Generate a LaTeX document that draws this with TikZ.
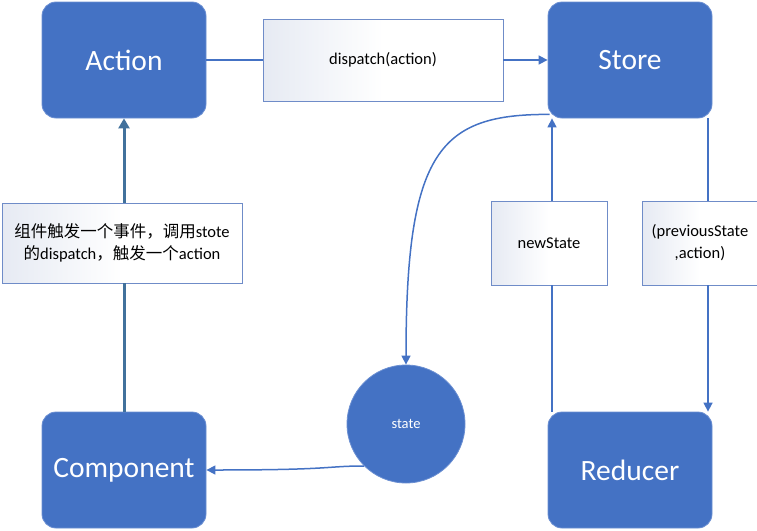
\documentclass[tikz,border=0pt]{standalone}
\usepackage{fontspec}
\setmainfont{Carlito}
\newfontfamily\cjk{Noto Sans CJK SC}
\usetikzlibrary{arrows.meta}
\definecolor{boxblue}{HTML}{4472C4}
\definecolor{edgeblue}{HTML}{6B8FD2}
\definecolor{steelline}{HTML}{41719C}
\definecolor{lblline}{HTML}{6F8CC8}
\definecolor{lblshade}{HTML}{E6EAF3}
\begin{document}
\begin{tikzpicture}[x=1pt, y=-1pt,
	bigbox/.style={draw=edgeblue, line width=0.8pt, fill=boxblue, rounded corners=14pt,
		minimum width=164pt, minimum height=116pt, text=white, font=\fontsize{29.5}{32}\selectfont},
	lblbox/.style={draw=lblline, line width=0.7pt, left color=lblshade, right color=white,
		middle color=white, align=center, font=\fontsize{16.5}{22}\selectfont, inner sep=2pt},
	conn/.style={draw=boxblue, line width=1.5pt},
	tip/.style={-{Triangle[width=9pt,length=9pt]}}]
		\useasboundingbox (0,0) rectangle (757,530);

		% main boxes
		\node[bigbox] (act) at (124,60) {Action};
		\node[bigbox] (store) at (630,60) {Store};
		\node[bigbox] (comp) at (124,470) {Component};
		\node[bigbox] (red) at (630,470) {Reducer};
		\node[circle, fill=boxblue, draw=edgeblue, line width=0.8pt, minimum size=118pt,
			text=white, font=\fontsize{14.5}{16}\selectfont] (st) at (406,424) {state};

		% labels on the connectors
		\node[lblbox, minimum width=240pt, minimum height=82pt] (disp) at (383,60) {dispatch(action)};
		\node[lblbox, minimum width=240pt, minimum height=80pt] (evt) at (122,243)
			{{\cjk 组件触发一个事件，调用}stote\\{\cjk 的}dispatch{\cjk ，触发一个}action};
		\node[lblbox, minimum width=116pt, minimum height=84pt] (ns) at (549,243) {newState};
		\node[lblbox, minimum width=115pt, minimum height=84pt] (prev) at (700,243)
			{(previousState\\,action)};
		\coordinate (nsx) at (552,0);
		\coordinate (prx) at (708,0);

		% Action -> Store
		\draw[conn] (act.east) -- (disp.west);
		\draw[conn, tip] (disp.east) -- (store.west);

		% Component -> Action
		\draw[draw=steelline, line width=3pt] (comp.north) -- (comp.north |- evt.south);
		\draw[draw=steelline, line width=3pt, -{Triangle[width=11pt,length=10pt]}]
			(act.south |- evt.north) -- (act.south);

		% Reducer -> Store
		\draw[conn] (red.north -| nsx) -- (ns.south -| nsx);
		\draw[conn, tip] (ns.north -| nsx) -- (store.south -| nsx);

		% Store -> Reducer
		\draw[conn] (store.south -| prx) -- (prev.north -| prx);
		\draw[conn, tip] (prev.south -| prx) -- (red.north -| prx);

		% Store -> state -> Component
		\draw[conn, tip] ([shift={(2,-4)}]store.south west)
			.. controls (440,114) and (406,150) .. (st.north);
		\draw[conn, tip] (st.225) .. controls (325,466) and (335,470) .. (comp.east);
	\end{tikzpicture}
\end{document}
